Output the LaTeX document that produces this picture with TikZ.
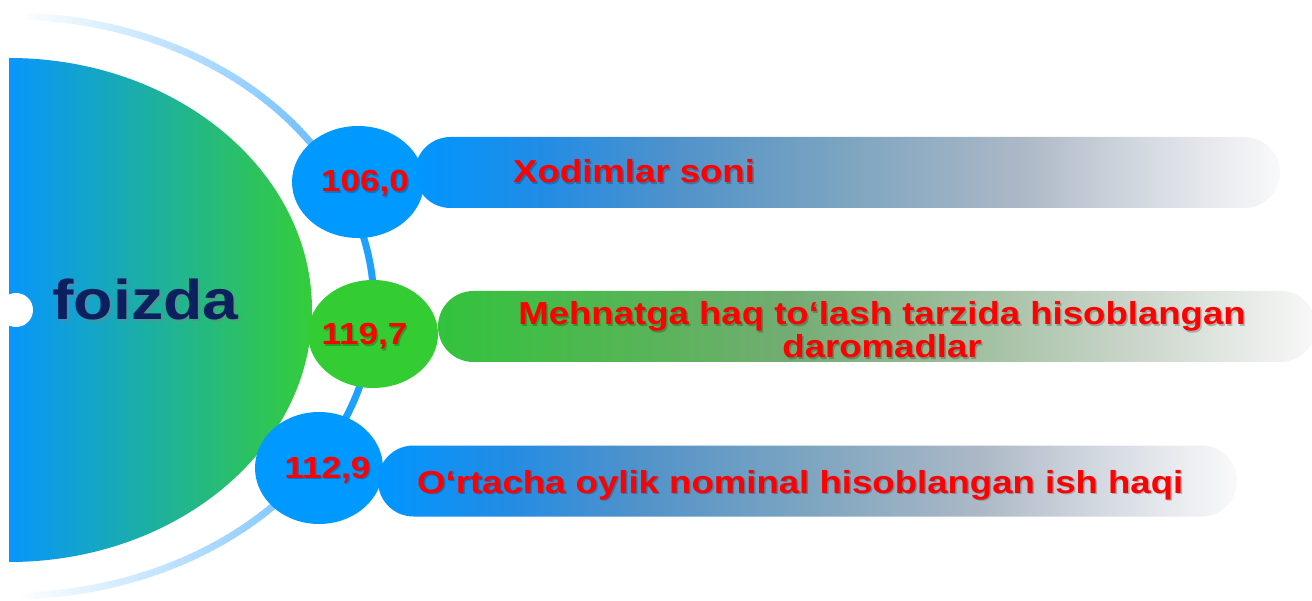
\documentclass[tikz,border=0pt]{standalone}
\usepackage{fontspec}
\setmainfont{Liberation Sans}[FakeStretch=1.15]
\usetikzlibrary{shapes.geometric,shapes.misc}
\definecolor{cblue}{RGB}{0,153,255}
\definecolor{cgreen}{RGB}{51,204,51}
\definecolor{arcdeep}{RGB}{30,160,255}
\definecolor{arclight}{RGB}{105,188,255}
\definecolor{navy}{RGB}{12,32,96}
\definecolor{txtred}{RGB}{255,0,0}
\definecolor{semiL}{RGB}{8,150,252}
\definecolor{semiR}{RGB}{52,205,58}
\definecolor{bb0}{RGB}{0,150,255}
\definecolor{bb1}{RGB}{35,140,228}
\definecolor{bb2}{RGB}{80,146,202}
\definecolor{bb3}{RGB}{125,165,192}
\definecolor{bb4}{RGB}{172,184,198}
\definecolor{bb5}{RGB}{214,219,226}
\definecolor{bb6}{RGB}{249,249,250}
\definecolor{bg0}{RGB}{50,195,60}
\definecolor{bg1}{RGB}{82,182,82}
\definecolor{bg2}{RGB}{115,172,115}
\definecolor{bg3}{RGB}{158,190,158}
\definecolor{bg4}{RGB}{204,214,204}
\definecolor{bg5}{RGB}{248,248,248}
\pgfdeclarehorizontalshading{barblue}{100bp}{color(0bp)=(bb0); color(25bp)=(bb0); color(32.5bp)=(bb1); color(40bp)=(bb2); color(50bp)=(bb3); color(60bp)=(bb4); color(67.5bp)=(bb5); color(75bp)=(bb6); color(100bp)=(bb6)}
\pgfdeclarehorizontalshading{bargreen}{100bp}{color(0bp)=(bg0); color(25bp)=(bg0); color(35bp)=(bg1); color(45bp)=(bg2); color(55bp)=(bg3); color(65bp)=(bg4); color(75bp)=(bg5); color(100bp)=(bg5)}
\tikzset{
  circ/.style={ellipse, inner sep=0pt, draw=none},
  bar/.style={rounded rectangle, inner sep=0pt, minimum height=71pt, draw=none},
  numtxt/.style={font=\fontsize{30.5}{32}\selectfont\bfseries, text=txtred, inner sep=0pt},
  bartxt/.style={font=\fontsize{31.8}{33}\selectfont\bfseries, text=txtred, inner sep=0pt},
  shadowtxt/.style={text=black, opacity=0.22},
  arcseg/.style={line width=7pt}
}
\begin{document}
\begin{tikzpicture}[x=1pt,y=-1pt]
\useasboundingbox (0,0) rectangle (1312,601);
% outer arc
\begin{scope}[shift={(9,306)}]
  \draw[arcseg, arcdeep] (-31:365 and 290) arc[start angle=-31, end angle=31, x radius=365, y radius=290];
  \foreach \a in {31,32,...,87} {
    \pgfmathsetmacro\p{100*(88-\a)/57}
    \draw[arcseg, color=arclight!\p!white] (\a:365 and 290) arc[start angle=\a, end angle=\a+1.3, x radius=365, y radius=290];
    \draw[arcseg, color=arclight!\p!white] (-\a:365 and 290) arc[start angle=-\a, end angle=-\a-1.3, x radius=365, y radius=290];
  }
\end{scope}
% big half disc
\path[left color=semiL, right color=semiR] (9,58) arc[start angle=-90, end angle=90, x radius=303, y radius=252] -- cycle;
\fill[white] (16,310) circle[radius=17];
\node[font=\fontsize{56}{60}\selectfont\bfseries, text=gray, opacity=0.45, anchor=base, inner sep=0pt] (fzs) at (147.5,322) {foizda};
\node[font=\fontsize{56}{60}\selectfont\bfseries, text=navy, anchor=base, inner sep=0pt] (fz) at (145.5,320) {foizda};
% circles
\node[circ, fill=cblue, minimum width=132pt, minimum height=112pt] (c1) at (358,182) {};
\node[circ, fill=cgreen, minimum width=130pt, minimum height=108pt] (c2) at (373,334) {};
\node[circ, fill=cblue, minimum width=128pt, minimum height=112pt] (c3) at (319,468) {};
% bars
\node[bar, shading=barblue, minimum width=865pt] (b1) at (847.5,172.5) {};
\node[bar, shading=bargreen, minimum width=878pt] (b2) at (877,326.5) {};
\node[bar, shading=barblue, minimum width=859pt] (b3) at (807.5,481) {};
% numbers
\node[numtxt, shadowtxt, anchor=base] (n1s) at (366.5,193.5) {106,0};
\node[numtxt, anchor=base] (n1) at (365,192) {106,0};
\node[numtxt, shadowtxt, anchor=base] (n2s) at (366,346.5) {119,7};
\node[numtxt, anchor=base] (n2) at (364.5,345) {119,7};
\node[numtxt, shadowtxt, anchor=base] (n3s) at (329,479.5) {112,9};
\node[numtxt, anchor=base] (n3) at (327.5,478) {112,9};
% bar texts
\node[bartxt, shadowtxt, anchor=base west] (t1s) at (514.5,184.5) {Xodimlar soni};
\node[bartxt, anchor=base west] (t1) at (513,183) {Xodimlar soni};
\node[bartxt, shadowtxt, align=center] (t2s) at (883.5,331.5) {Mehnatga haq to‘lash tarzida hisoblangan\\daromadlar};
\node[bartxt, align=center] (t2) at (882,330) {Mehnatga haq to‘lash tarzida hisoblangan\\daromadlar};
\node[bartxt, shadowtxt, anchor=base west] (t3s) at (418.5,494.5) {O‘rtacha oylik nominal hisoblangan ish haqi};
\node[bartxt, anchor=base west] (t3) at (417,493) {O‘rtacha oylik nominal hisoblangan ish haqi};
\end{tikzpicture}
\end{document}
